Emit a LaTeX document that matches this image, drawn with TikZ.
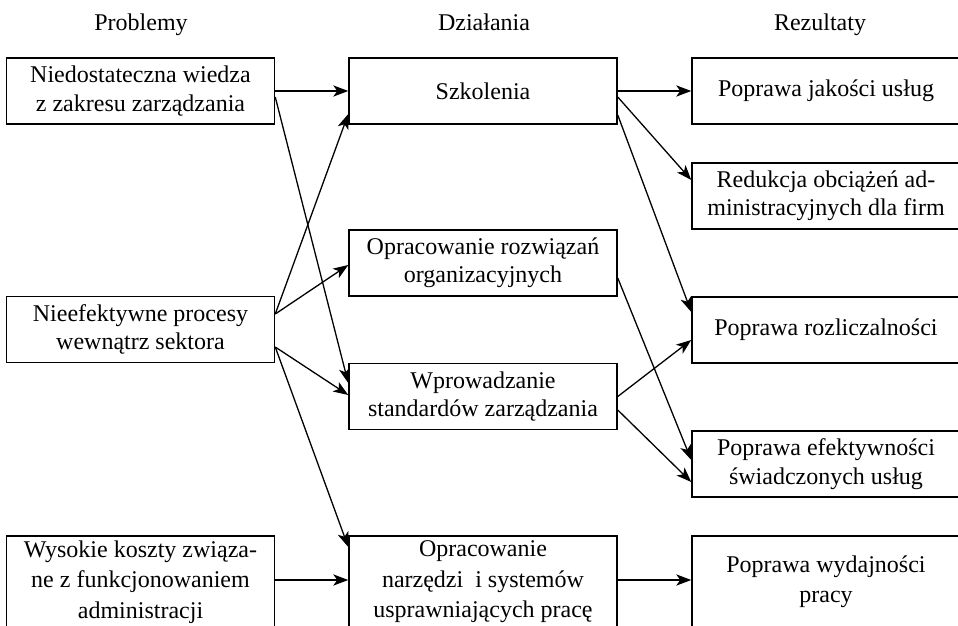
\documentclass[tikz,border=0pt]{standalone}
\usepackage{fontspec}
\setmainfont{Liberation Serif}
\usetikzlibrary{arrows.meta}

\begin{document}
\begin{tikzpicture}[
  x=0.5pt, y=-0.5pt,
  box/.style={draw, line width=0.75pt, minimum width=134pt, minimum height=33pt,
              inner sep=0pt, align=center, font=\fontsize{12}{14.2}\selectfont},
  tallbox/.style={box, minimum height=46pt, font=\fontsize{12}{15.2}\selectfont},
  head/.style={anchor=base, font=\fontsize{12}{14.2}\selectfont},
  arrow/.style={-{Stealth[length=7.5pt, width=5.6pt, inset=2pt]}, line width=0.65pt},
]
  \useasboundingbox (0,0) rectangle (958,626);
  \clip (0,0) rectangle (958,626);

  % Column headings
  \node[head] (hprob) at (141, 31) {Problemy};
  \node[head] (hdzial) at (484, 31) {Działania};
  \node[head] (hrez) at (820, 31) {Rezultaty};

  % Problems
  \node[box] (wiedza) at (140.5, 91) {Niedostateczna wiedza\\z zakresu zarządzania};
  \node[box] (procesy) at (140.5, 329.5) {Nieefektywne procesy\\wewnątrz sektora};
  \node[tallbox] (koszty) at (140.5, 582) {Wysokie koszty związa-\\ne z funkcjonowaniem\\administracji};

  % Actions
  \node[box] (szkol) at (483, 91) {Szkolenia};
  \node[box] (orgroz) at (483, 263) {Opracowanie rozwiązań\\organizacyjnych};
  \node[box] (standard) at (483, 396.5) {Wprowadzanie\\standardów zarządzania};
  \node[tallbox] (narzedzia) at (483, 582) {Opracowanie\\narzędzi\ \ i systemów\\usprawniających pracę};

  % Results
  \node[box] (jakosc) at (826, 91) {Poprawa jakości usług};
  \node[box] (redukcja) at (826, 196) {Redukcja obciążeń ad-\\ministracyjnych dla firm};
  \node[box] (rozlicz) at (826, 330) {Poprawa rozliczalności};
  \node[box] (efekt) at (826, 464) {Poprawa efektywności\\świadczonych usług};
  \node[tallbox] (wydajn) at (826, 582) {Poprawa wydajności\\pracy};

  % Problems -> actions
  \draw[arrow] (wiedza.east) -- (szkol.west);
  \draw[arrow] ([yshift=-3pt]wiedza.east) -- ([yshift=6.75pt]standard.west);
  \draw[arrow] ([yshift=7.75pt]procesy.east) -- ([yshift=-11.5pt]szkol.west);
  \draw[arrow] ([yshift=7.75pt]procesy.east) -- ([yshift=-1pt]orgroz.west);
  \draw[arrow] ([yshift=-8.75pt]procesy.east) -- ([yshift=0.75pt]standard.west);
  \draw[arrow] ([yshift=-8.75pt]procesy.east) -- ([yshift=17.5pt]narzedzia.west);
  \draw[arrow] ([yshift=1pt]koszty.east) -- ([yshift=1pt]narzedzia.west);

  % Actions -> results
  \draw[arrow] (szkol.east) -- (jakosc.west);
  \draw[arrow] ([yshift=-3pt]szkol.east) -- ([yshift=8pt]redukcja.west);
  \draw[arrow] ([yshift=-12pt]szkol.east) -- ([yshift=9pt]rozlicz.west);
  \draw[arrow] ([yshift=-7.5pt]orgroz.east) -- ([yshift=2pt]efekt.west);
  \draw[arrow] (standard.east) -- ([yshift=-5pt]rozlicz.west);
  \draw[arrow] ([yshift=-6.75pt]standard.east) -- ([yshift=-9pt]efekt.west);
  \draw[arrow] ([yshift=1pt]narzedzia.east) -- ([yshift=1pt]wydajn.west);
\end{tikzpicture}
\end{document}
